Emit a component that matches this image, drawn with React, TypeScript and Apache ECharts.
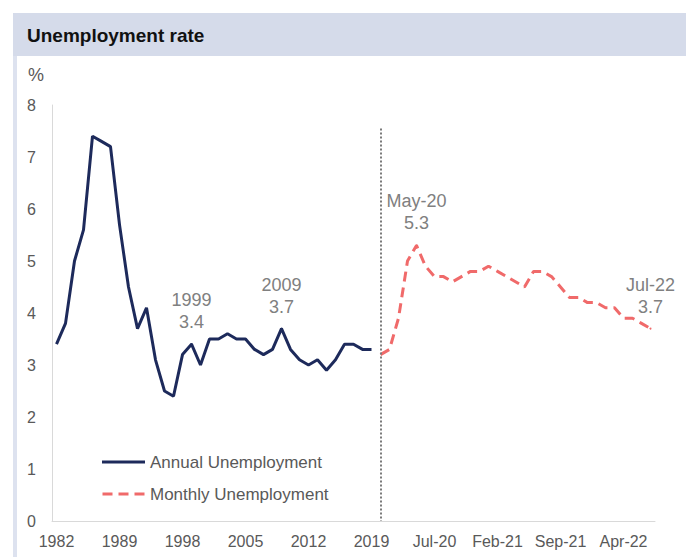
import React, { useEffect, useRef } from "react";
import * as echarts from "echarts";

const annualYears = [
  "1982", "1983", "1984", "1985", "1986", "1987", "1988", "1989", "1990",
  "1992", "1993", "1995", "1996", "1997", "1998", "1999", "2000", "2001",
  "2002", "2003", "2004", "2005", "2006", "2007", "2008", "2009", "2010",
  "2011", "2012", "2013", "2014", "2015", "2016", "2017", "2018", "2019",
];
const annualValues = [
  3.4, 3.8, 5.0, 5.6, 7.4, 7.3, 7.2, 5.7, 4.5,
  3.7, 4.1, 3.1, 2.5, 2.4, 3.2, 3.4, 3.0, 3.5,
  3.5, 3.6, 3.5, 3.5, 3.3, 3.2, 3.3, 3.7, 3.3,
  3.1, 3.0, 3.1, 2.9, 3.1, 3.4, 3.4, 3.3, 3.3,
];
const monthlyLabels = [
  "Jan-20", "Feb-20", "Mar-20", "Apr-20", "May-20", "Jun-20", "Jul-20", "Aug-20",
  "Sep-20", "Oct-20", "Nov-20", "Dec-20", "Jan-21", "Feb-21", "Mar-21", "Apr-21",
  "May-21", "Jun-21", "Jul-21", "Aug-21", "Sep-21", "Oct-21", "Nov-21", "Dec-21",
  "Jan-22", "Feb-22", "Mar-22", "Apr-22", "May-22", "Jun-22", "Jul-22",
];
const monthlyValues = [
  3.2, 3.3, 3.9, 5.0, 5.3, 4.9, 4.7, 4.7,
  4.6, 4.7, 4.8, 4.8, 4.9, 4.8, 4.7, 4.6,
  4.5, 4.8, 4.8, 4.7, 4.5, 4.3, 4.3, 4.2,
  4.2, 4.1, 4.1, 3.9, 3.9, 3.8, 3.7,
];
const annotatedPoints = ["1999", "2009", "May-20", "Jul-22"];
const dividerCategory = "Jan-20";
const yMin = 0;
const yMax = 8;
const yStep = 1;

const FONT = "'Liberation Sans', Arial, sans-serif";
const NAVY = "#1d2a5b";
const RED = "#f06a6a";
const GREY_TEXT = "#595959";
const ANNOT = "#808080";

function buildItem(cat: string, v: number, color: string) {
  if (annotatedPoints.indexOf(cat) >= 0) {
    return {
      value: v,
      symbol: "circle",
      symbolSize: 2,
      itemStyle: { color },
      label: {
        show: true,
        position: "top",
        distance: 10,
        formatter: cat + "\n" + v.toFixed(1),
        color: ANNOT,
        fontSize: 18,
        lineHeight: 22,
        fontFamily: FONT,
        align: "center",
      },
    };
  }
  return v;
}

export default function App() {
  const ref = useRef<HTMLDivElement>(null);
  useEffect(() => {
    if (!ref.current) return;
    const chart = echarts.init(ref.current, null, { renderer: "svg" });
    const categories = annualYears.concat(monthlyLabels);
    const annualData: any[] = annualYears
      .map((c, i) => buildItem(c, annualValues[i], NAVY))
      .concat(monthlyLabels.map(() => "-") as any[]);
    const monthlyData: any[] = (annualYears.map(() => "-") as any[]).concat(
      monthlyLabels.map((c, i) => buildItem(c, monthlyValues[i], RED))
    );
    chart.setOption({
      animation: false,
      backgroundColor: "#ffffff",
      textStyle: { fontFamily: FONT },
      graphic: [
        {
          type: "rect",
          shape: { x: 13, y: 13, width: 673, height: 43 },
          style: { fill: "#d5dbea" },
          silent: true,
        },
        {
          type: "rect",
          shape: { x: 13, y: 56, width: 4, height: 501 },
          style: { fill: "#dde2ef" },
          silent: true,
        },
        {
          type: "text",
          x: 27,
          y: 35,
          style: {
            text: "Unemployment rate",
            fontSize: 19,
            fontWeight: "bold",
            fill: "#111111",
            fontFamily: FONT,
            verticalAlign: "middle",
          },
          silent: true,
        },
        {
          type: "text",
          x: 28,
          y: 75,
          style: {
            text: "%",
            fontSize: 18,
            fill: GREY_TEXT,
            fontFamily: FONT,
            verticalAlign: "middle",
          },
          silent: true,
        },
      ],
      legend: {
        orient: "vertical",
        left: 102,
        top: 452,
        itemWidth: 43,
        itemHeight: 3,
        itemGap: 12,
        padding: 0,
        textStyle: { fontSize: 17, color: GREY_TEXT, fontFamily: FONT, lineHeight: 20 },
        data: [
          { name: "Annual Unemployment", icon: "rect" },
          {
            name: "Monthly Unemployment",
            icon: "path://M0,0h10v3h-10z M16,0h10v3h-10z M32,0h10v3h-10z",
          },
        ],
      },
      grid: { left: 52, right: 31, top: 105, bottom: 36, containLabel: false },
      xAxis: {
        type: "category",
        data: categories,
        boundaryGap: true,
        axisTick: { show: false },
        axisLine: { show: true, lineStyle: { color: "#d9d9d9", width: 1 } },
        axisLabel: {
          interval: 6,
          fontSize: 16,
          color: GREY_TEXT,
          fontFamily: FONT,
          margin: 12,
        },
        splitLine: { show: false },
      },
      yAxis: {
        type: "value",
        min: yMin,
        max: yMax,
        interval: yStep,
        axisLine: { show: true, lineStyle: { color: "#d9d9d9", width: 1 } },
        axisTick: { show: false },
        splitLine: { show: false },
        axisLabel: { fontSize: 16, color: GREY_TEXT, fontFamily: FONT, margin: 16 },
      },
      series: [
        {
          name: "Annual Unemployment",
          type: "line",
          data: annualData,
          symbol: "none",
          showSymbol: true,
          showAllSymbol: true,
          connectNulls: false,
          itemStyle: { color: NAVY },
          lineStyle: { color: NAVY, width: 3 },
          z: 3,
        },
        {
          name: "Monthly Unemployment",
          type: "line",
          data: monthlyData,
          symbol: "none",
          showSymbol: true,
          showAllSymbol: true,
          connectNulls: false,
          itemStyle: { color: RED },
          lineStyle: { color: RED, width: 3, type: [10, 6] },
          z: 3,
          markLine: {
            silent: true,
            symbol: ["none", "none"],
            label: { show: false },
            lineStyle: { color: "#7a7a7a", width: 2, type: [2, 2] },
            data: [[{ coord: [dividerCategory, 7.55] }, { coord: [dividerCategory, 0] }]],
          },
        },
      ],
    });
    return () => chart.dispose();
  }, []);
  return (
    <div
      ref={ref}
      style={{ position: "absolute", left: 0, top: 0, width: 686, height: 557 }}
    />
  );
}
